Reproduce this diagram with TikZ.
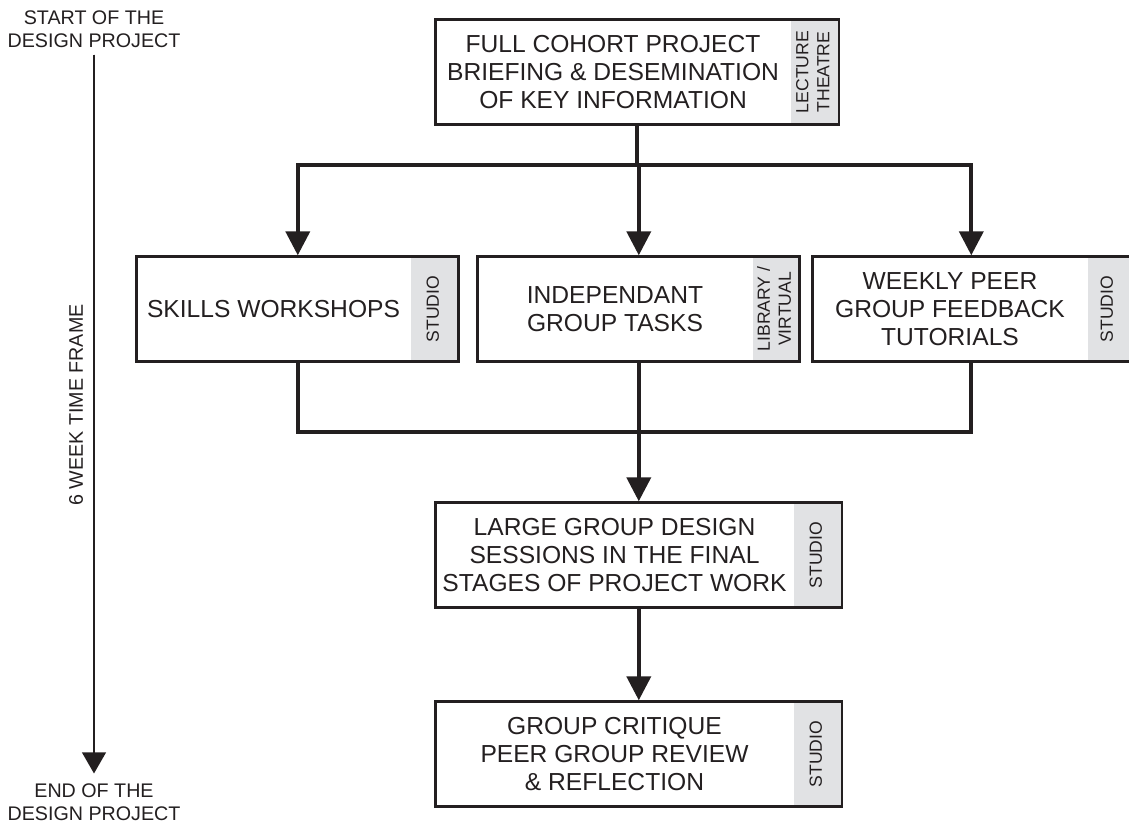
\documentclass[tikz,border=0pt]{standalone}
\usepackage{fontspec}
\setmainfont{Liberation Sans}
\usepackage{graphicx}
\usepackage{xcolor}
\definecolor{cInk}{HTML}{231F20}
\definecolor{cRoom}{HTML}{E1E2E4}
\usepackage{tikz}
\usetikzlibrary{positioning,arrows.meta,fit}
\newcommand{\roomtext}[1]{\rotatebox{90}{\begin{tabular}{@{}c@{}}#1\end{tabular}}}
\tikzset{
  node-task/.style={inner sep=0pt,minimum height=2.6cm,align=center,text=cInk,
    font=\fontsize{17.5}{19.8}\selectfont},
  node-room/.style={fill=cRoom,inner sep=0pt,minimum width=1.2cm,minimum height=2.6cm,
    text=cInk,font=\fontsize{12.5}{15}\selectfont},
  node-frame/.style={draw=cInk,line width=2pt,inner sep=0pt},
  node-side/.style={align=center,text=cInk,inner sep=2pt,font=\fontsize{14}{16.3}\selectfont},
  flow-line/.style={draw=cInk,line width=2.8pt,line cap=rect},
  flow-arrow/.style={-{Triangle[length=17pt,width=17pt]},draw=cInk,fill=cInk,line width=2.8pt},
  time-line/.style={-{Triangle[length=15pt,width=17pt]},draw=cInk,fill=cInk,line width=1pt},
}
\begin{document}
\begin{tikzpicture}[x=0.025cm,y=-0.025cm]
  \useasboundingbox (0,0) rectangle (1129,824);
  % time axis on the left
  \node[node-side] (start)  at (94,29)  {START OF THE\\DESIGN PROJECT};
  \node[node-side] (finish) at (94,802) {END OF THE\\DESIGN PROJECT};
  \node[node-side,rotate=90] (span) at (76,405) {6 WEEK TIME FRAME};
  \draw[time-line,shorten <=3pt,shorten >=5pt] (start.south) -- (finish.north);

  % briefing
  \node[node-task,minimum width=8.85cm] (brief) at (613,72) {FULL COHORT PROJECT\\BRIEFING \& DESEMINATION\\OF KEY INFORMATION};
  \node[node-room,right=0pt of brief] (brief-room) {\roomtext{LECTURE\\THEATRE}};
  \node[node-frame,fit=(brief)(brief-room)] (brief-frame) {};

  % three parallel activities
  \node[node-task,minimum width=6.825cm] (skills) at (273.5,309) {SKILLS WORKSHOPS};
  \node[node-room,right=0pt of skills] (skills-room) {\roomtext{STUDIO}};
  \node[node-frame,fit=(skills)(skills-room)] (skills-frame) {};
  \node[node-task,minimum width=6.85cm] (indep) at (615,309) {INDEPENDANT\\GROUP TASKS};
  \node[node-room,minimum width=1.175cm,right=0pt of indep] (indep-room) {\roomtext{LIBRARY /\\VIRTUAL}};
  \node[node-frame,fit=(indep)(indep-room)] (indep-frame) {};
  \node[node-task,minimum width=6.85cm] (weekly) at (950,309) {WEEKLY PEER\\GROUP FEEDBACK\\TUTORIALS};
  \node[node-room,minimum width=1.05cm,right=0pt of weekly] (weekly-room) {\roomtext{STUDIO}};
  \node[node-frame,fit=(weekly)(weekly-room)] (weekly-frame) {};

  % final stages
  \node[node-task,minimum width=8.925cm] (large) at (614.5,555) {LARGE GROUP DESIGN\\SESSIONS IN THE FINAL\\STAGES OF PROJECT WORK};
  \node[node-room,right=0pt of large] (large-room) {\roomtext{STUDIO}};
  \node[node-frame,fit=(large)(large-room)] (large-frame) {};
  \node[node-task,minimum width=8.925cm] (critique) at (614.5,754) {GROUP CRITIQUE\\PEER GROUP REVIEW\\\& REFLECTION};
  \node[node-room,right=0pt of critique] (critique-room) {\roomtext{STUDIO}};
  \node[node-frame,fit=(critique)(critique-room)] (critique-frame) {};

  % connectors
  \coordinate (upper-bus) at (637,165);
  \coordinate (lower-bus) at (637,432);
  \draw[flow-line] (brief-frame.south) -- (brief-frame.south |- upper-bus);
  \draw[flow-line] (skills-frame.north |- upper-bus) -- (weekly-frame.north |- upper-bus);
  \foreach \n in {skills,indep,weekly}
    \draw[flow-arrow] (\n-frame.north |- upper-bus) -- (\n-frame.north);
  \draw[flow-line] (skills-frame.south) |- (weekly-frame.south |- lower-bus) -- (weekly-frame.south);
  \draw[flow-line] (indep-frame.south) -- (indep-frame.south |- lower-bus);
  \draw[flow-arrow] (large-frame.north |- lower-bus) -- (large-frame.north);
  \draw[flow-arrow] (large-frame) -- (critique-frame);
\end{tikzpicture}
\end{document}
